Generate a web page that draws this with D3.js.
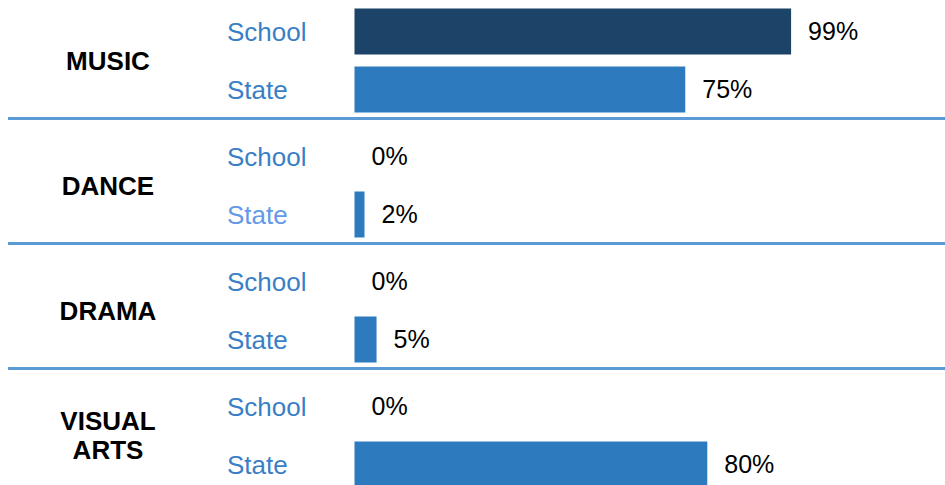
<!DOCTYPE html>
<html>
<head>
<meta charset="utf-8">
<script src="https://cdn.jsdelivr.net/npm/d3@7"></script>
<style>
  body { margin: 0; background: #fff; }
  #chart svg { display: block; }
</style>
</head>
<body>
<div id="chart"></div>
<script>
// data
var categories = ["MUSIC", "DANCE", "DRAMA", "VISUAL ARTS"];
var rows = ["School", "State"];
var schoolValues = [99, 0, 0, 0];
var stateValues = [75, 2, 5, 80];

var width = 945,
    height = 485;

var colors = { School: "#1c4468", State: "#2e7abf" };
var rowLabelColor = ["#3a7fc6", "#3a7fc6", "#3a7fc6", "#3a7fc6"];
var stateLabelColor = ["#3a7fc6", "#6499e6", "#3a7fc6", "#3a7fc6"];

var svg = d3.select("#chart").append("svg")
    .attr("width", width)
    .attr("height", height)
    .style("font-family", "Arial, 'Liberation Sans', sans-serif");

// x scale: percentage -> pixels
var x = d3.scaleLinear()
    .domain([0, 100])
    .range([354.5, 795.5]);

// one band per category group
var groupY = d3.scaleBand()
    .domain(categories)
    .range([-4, 496]);

// School / State inside a group
var rowY = d3.scaleBand()
    .domain(rows)
    .range([12.5, 116.5])
    .paddingInner(12 / 58);

var table = categories.map(function(c, i) {
  return {
    category: c,
    index: i,
    values: [
      { row: "School", value: schoolValues[i] },
      { row: "State", value: stateValues[i] }
    ]
  };
});

var group = svg.selectAll(".group")
    .data(table)
    .enter().append("g")
    .attr("class", "group")
    .attr("transform", function(d) { return "translate(0," + groupY(d.category) + ")"; });

// separator lines under the first three groups
group.filter(function(d) { return d.index < categories.length - 1; })
  .append("line")
    .attr("x1", 8)
    .attr("x2", width)
    .attr("y1", 122.5)
    .attr("y2", 122.5)
    .attr("stroke", "#5b9bd5")
    .attr("stroke-width", 3);

// category name, bold, centred
group.append("text")
    .attr("x", 108)
    .attr("text-anchor", "middle")
    .attr("font-weight", "bold")
    .attr("font-size", "26px")
    .attr("fill", "#000")
    .each(function(d) {
      var words = d.category.split(" ");
      var mid = (rowY("School") + rowY("State") + rowY.bandwidth()) / 2;
      var lineH = 29;
      var t = d3.select(this);
      words.forEach(function(w, k) {
        t.append("tspan")
          .attr("x", 108)
          .attr("y", mid + (k - (words.length - 1) / 2) * lineH)
          .attr("dy", "0.35em")
          .text(w);
      });
    });

var row = group.selectAll(".row")
    .data(function(d) { return d.values.map(function(v) { v.index = d.index; return v; }); })
    .enter().append("g")
    .attr("class", "row")
    .attr("transform", function(d) { return "translate(0," + rowY(d.row) + ")"; });

// row label
row.append("text")
    .attr("x", 227)
    .attr("y", rowY.bandwidth() / 2)
    .attr("dy", "0.35em")
    .attr("font-size", "26px")
    .attr("fill", function(d) {
      return d.row === "School" ? rowLabelColor[d.index] : stateLabelColor[d.index];
    })
    .text(function(d) { return d.row; });

// bars
row.filter(function(d) { return d.value > 0; })
  .append("rect")
    .attr("x", x(0))
    .attr("y", 0)
    .attr("width", function(d) { return Math.max(x(d.value) - x(0), 10); })
    .attr("height", rowY.bandwidth())
    .attr("fill", function(d) { return colors[d.row]; });

// value labels
row.append("text")
    .attr("x", function(d) { return x(0) + Math.max(x(d.value) - x(0), d.value > 0 ? 10 : 0) + 17; })
    .attr("y", rowY.bandwidth() / 2)
    .attr("dy", "0.35em")
    .attr("font-size", "25px")
    .attr("fill", "#000")
    .text(function(d) { return d.value + "%"; });
</script>
</body>
</html>
